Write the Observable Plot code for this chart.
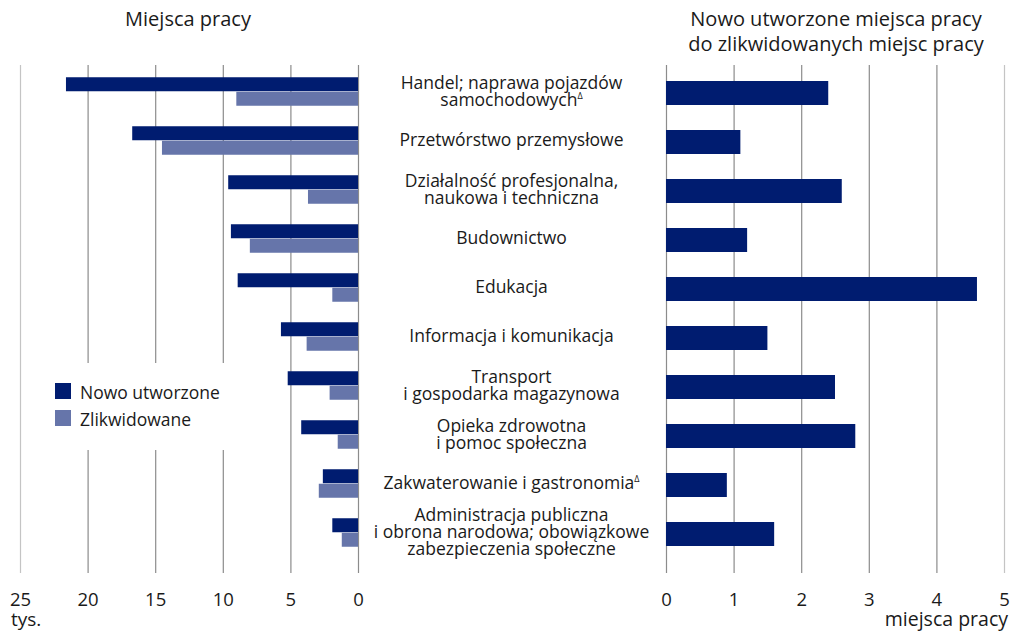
<!DOCTYPE html>
<html>
<head>
<meta charset="utf-8">
<script src="https://cdn.jsdelivr.net/npm/d3@7"></script>
<script src="https://cdn.jsdelivr.net/npm/@observablehq/plot@0.6"></script>
<style>
  html, body { margin: 0; padding: 0; background: #fff; }
  #root { position: relative; width: 1011px; height: 634px; overflow: hidden; font-family: "Open Sans", "Noto Sans", sans-serif; color: #1a1a1a; }
  .abs { position: absolute; white-space: nowrap; }
  #left, #right { position: absolute; top: 0; }
  #left { left: 0; }
  #right { left: 380px; }
  #legend { position: absolute; left: 37px; top: 363px; width: 190px; height: 87px; background: #fff; z-index: 5; font-size: 17.5px; }
  .sw { position: absolute; width: 16px; height: 16px; left: 18px; }
  .lt { position: absolute; left: 43px; line-height: 20px; }
</style>
</head>
<body>
<div id="root">
  <div id="left"></div>
  <div id="right"></div>
  <div class="abs" style="left:0;width:376px;top:6px;text-align:center;font-size:20px;line-height:26px;">Miejsca pracy</div>
  <div class="abs" style="left:660px;width:352px;top:6px;text-align:center;font-size:20px;line-height:25px;">Nowo utworzone miejsca pracy<br>do zlikwidowanych miejsc pracy</div>
  <div class="abs" style="left:11px;top:607px;font-size:19px;line-height:24px;">tys.</div>
  <div class="abs" style="right:3px;top:607px;font-size:19.5px;line-height:24px;">miejsca pracy</div>
  <div id="legend">
    <div class="sw" style="top:20px;background:#001c70;"></div>
    <div class="lt" style="top:19px;">Nowo utworzone</div>
    <div class="sw" style="top:47px;background:#6675aa;"></div>
    <div class="lt" style="top:46px;">Zlikwidowane</div>
  </div>
</div>
<script>
const categories = [
  "Handel; naprawa pojazdów\nsamochodowychΔ",
  "Przetwórstwo przemysłowe",
  "Działalność profesjonalna,\nnaukowa i techniczna",
  "Budownictwo",
  "Edukacja",
  "Informacja i komunikacja",
  "Transport\ni gospodarka magazynowa",
  "Opieka zdrowotna\ni pomoc społeczna",
  "Zakwaterowanie i gastronomiaΔ",
  "Administracja publiczna\ni obrona narodowa; obowiązkowe\nzabezpieczenia społeczne"
];
const nowoUtworzone = [21.6, 16.7, 9.6, 9.4, 8.9, 5.7, 5.2, 4.2, 2.6, 1.9];
const zlikwidowane  = [9.0, 14.5, 3.7, 8.0, 1.9, 3.8, 2.1, 1.5, 2.9, 1.2];
const wskaznik      = [2.4, 1.1, 2.6, 1.2, 4.6, 1.5, 2.5, 2.8, 0.9, 1.6];
const leftTicks  = [0, 5, 10, 15, 20, 25];
const rightTicks = [0, 1, 2, 3, 4, 5];

const DARK = "#001c70", LIGHT = "#6675aa";
const rows = categories.map((c, i) => ({cat: c, nowe: nowoUtworzone[i], zlikw: zlikwidowane[i], ratio: wskaznik[i]}));
const font = "'Open Sans', 'Noto Sans', sans-serif";
const yScale = {domain: categories, range: [64.25, 559.25], padding: 0, axis: null};
const fmt = d3.format("d");

const left = Plot.plot({
  width: 380, height: 634,
  marginTop: 65, marginBottom: 61, marginLeft: 20, marginRight: 22,
  style: {fontFamily: font, fontSize: "18.5px", color: "#1a1a1a", background: "transparent", overflow: "visible"},
  x: {domain: [0, 25], reverse: true},
  y: yScale,
  marks: [
    Plot.ruleX(leftTicks, {stroke: d => d === 25 ? "#c4c4c4" : "#8c8c8c", strokeWidth: 1.2}),
    Plot.barX(rows, {y: "cat", x: "nowe", fill: DARK, insetTop: 10.25, insetBottom: 24.75}),
    Plot.barX(rows, {y: "cat", x: "zlikw", fill: LIGHT, insetTop: 24.75, insetBottom: 10.25}),
    Plot.axisX({ticks: leftTicks, tickFormat: fmt, tickSize: 0, tickPadding: 19, label: null, fontSize: 18.5})
  ]
});
document.getElementById("left").appendChild(left);

const right = Plot.plot({
  width: 631, height: 634,
  marginTop: 65, marginBottom: 61, marginLeft: 286, marginRight: 7,
  style: {fontFamily: font, fontSize: "18.5px", color: "#1a1a1a", background: "transparent", overflow: "visible"},
  x: {domain: [0, 5]},
  y: yScale,
  marks: [
    Plot.ruleX(rightTicks, {stroke: d => d === 5 ? "#c4c4c4" : "#8c8c8c", strokeWidth: 1.2}),
    Plot.barX(rows, {y: "cat", x: "ratio", fill: DARK, insetTop: 14, insetBottom: 11}),
    Plot.text(rows, {y: "cat", text: "cat", frameAnchor: "left", dx: -155, textAnchor: "middle", lineAnchor: "middle", lineHeight: 0.97, fontSize: 17.5, fill: "#1a1a1a"}),
    Plot.axisX({ticks: rightTicks, tickFormat: fmt, tickSize: 0, tickPadding: 19, label: null, fontSize: 18.5})
  ]
});
document.getElementById("right").appendChild(right);

// superscript triangle markers
right.querySelectorAll("tspan, text").forEach(el => {
  if (el.children.length === 0 && el.textContent.endsWith("Δ")) {
    el.textContent = el.textContent.slice(0, -1);
    const t = document.createElementNS("http://www.w3.org/2000/svg", "tspan");
    t.textContent = "Δ";
    t.setAttribute("font-size", "9");
    t.setAttribute("dy", "-7");
    el.appendChild(t);
  }
});
</script>
</body>
</html>
